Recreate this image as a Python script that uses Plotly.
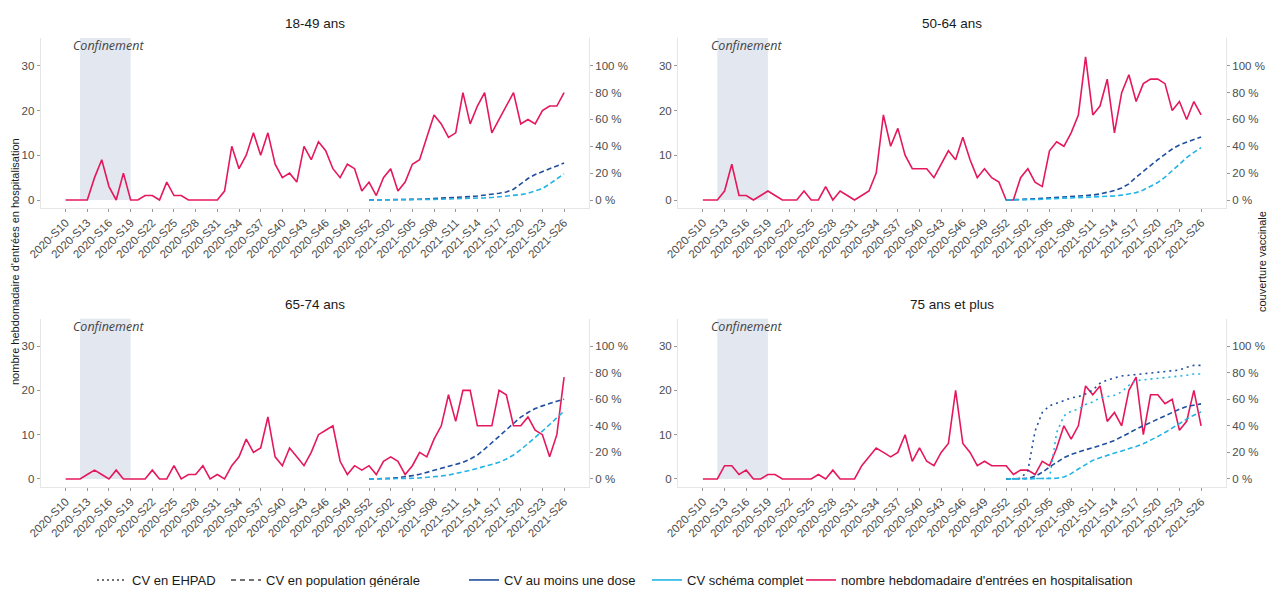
import plotly.graph_objects as go

# ---------------- data ----------------
WEEKS = [f"2020-S{w:02d}" for w in range(10, 54)] + [f"2021-S{w:02d}" for w in range(1, 27)]
TICK_WEEKS = WEEKS[::3]
VAC_START = "2020-S52"
CONF_START = "2020-S12"
CONF_END = "2020-S19"

PANEL_TITLES = ["18-49 ans", "50-64 ans", "65-74 ans", "75 ans et plus"]

HOSP_18_49 = [0, 0, 0, 0, 5, 9, 3, 0, 6, 0,
              0, 1, 1, 0, 4, 1, 1, 0, 0, 0,
              0, 0, 2, 12, 7, 10, 15, 10, 15, 8,
              5, 6, 4, 12, 9, 13, 11, 7, 5, 8,
              7, 2, 4, 1, 5, 7, 2, 4, 8, 9,
              14, 19, 17, 14, 15, 24, 17, 21, 24, 15,
              18, 21, 24, 17, 18, 17, 20, 21, 21, 24]
HOSP_50_64 = [0, 0, 0, 2, 8, 1, 1, 0, 1, 2,
              1, 0, 0, 0, 2, 0, 0, 3, 0, 2,
              1, 0, 1, 2, 6, 19, 12, 16, 10, 7,
              7, 7, 5, 8, 11, 9, 14, 9, 5, 7,
              5, 4, 0, 0, 5, 7, 4, 3, 11, 13,
              12, 15, 19, 32, 19, 21, 27, 15, 24, 28,
              22, 26, 27, 27, 26, 20, 22, 18, 22, 19]
HOSP_65_74 = [0, 0, 0, 1, 2, 1, 0, 2, 0, 0,
              0, 0, 2, 0, 0, 3, 0, 1, 1, 3,
              0, 1, 0, 3, 5, 9, 6, 7, 14, 5,
              3, 7, 5, 3, 6, 10, 11, 12, 4, 1,
              3, 2, 3, 1, 4, 5, 4, 1, 3, 6,
              5, 9, 12, 19, 13, 20, 20, 12, 12, 12,
              20, 19, 12, 12, 14, 11, 10, 5, 10, 23]
HOSP_75P = [0, 0, 0, 3, 3, 1, 2, 0, 0, 1,
            1, 0, 0, 0, 0, 0, 1, 0, 2, 0,
            0, 0, 3, 5, 7, 6, 5, 6, 10, 4,
            7, 4, 3, 6, 8, 20, 8, 6, 3, 4,
            3, 3, 3, 1, 2, 2, 1, 4, 3, 7,
            12, 9, 12, 21, 19, 21, 13, 15, 12, 20,
            23, 10, 19, 19, 17, 18, 11, 13, 20, 12]

# vaccination coverage (%), weeks from 2020-S52 to 2021-S26
DOSE1_18_49 = [0, 0, 0.1, 0.2, 0.3, 0.4, 0.5, 0.6, 0.8, 1.0, 1.2, 1.5, 1.8, 2.1,
               2.5, 3.0, 3.6, 4.2, 5.0, 6.0, 8.0, 12, 16, 19, 21, 23, 25, 27.5]
COMPL_18_49 = [0, 0, 0, 0.1, 0.1, 0.2, 0.2, 0.3, 0.4, 0.5, 0.6, 0.7, 0.9, 1.0,
               1.2, 1.4, 1.6, 1.9, 2.3, 2.7, 3.2, 4.0, 5.0, 6.5, 8.5, 12, 16, 19.5]
DOSE1_50_64 = [0, 0.1, 0.3, 0.6, 0.9, 1.2, 1.5, 1.8, 2.1, 2.4, 2.8, 3.2, 3.7, 4.5,
               5.5, 7, 9, 12, 17, 21.5, 26, 30, 34, 38, 41, 43, 45, 47]
COMPL_50_64 = [0, 0, 0.1, 0.3, 0.4, 0.6, 0.8, 1.0, 1.1, 1.3, 1.5, 1.7, 2.0, 2.3,
               2.6, 3.0, 3.6, 4.4, 5.5, 7.5, 10, 13, 17, 22, 27, 31.5, 35.5, 39]
DOSE1_65_74 = [0, 0, 0.2, 0.5, 1.0, 1.6, 2.5, 3.5, 4.8, 6.5, 8, 9.5, 11, 12.5,
               15, 18, 22.5, 27, 32, 37, 42, 46.5, 50, 53, 55, 57, 58.5, 60]
COMPL_65_74 = [0, 0, 0, 0.1, 0.2, 0.3, 0.5, 0.8, 1.1, 1.5, 2.2, 3, 4, 5.2,
               6.5, 8, 9.5, 11, 12.5, 15, 18, 22, 26.5, 31, 36, 41, 46, 51]
DOSE1_75P = [0, 0, 0.5, 0.5, 2, 5, 9, 12.5, 16, 18.5, 20.5, 22, 23.5, 25,
             27, 29, 31.5, 34.5, 37.5, 40, 43, 45.5, 48, 50.5, 52.5, 54.5, 55.5, 56.5]
COMPL_75P = [0, 0, 0, 0, 0, 0, 0, 0.5, 1.5, 4, 7.5, 11, 14, 16,
             18, 19.5, 21, 22.5, 24.5, 26.5, 29, 32, 35, 38.5, 42, 45, 48, 50.5]
EHPAD_DOSE1_75P = [0, 0, 0.5, 6, 36, 50, 55, 57, 59, 61, 62, 64, 67, 72,
                   74.5, 76, 77.5, 78, 78.5, 79.5, 80, 80.5, 81, 81, 82, 84, 85.5, 85.5]
EHPAD_COMPL_75P = [0, 0, 0, 0, 0, 0, 0.5, 35, 47.5, 51, 52.5, 56, 58, 61,
                   62, 63, 65.5, 70.5, 74, 74.5, 75, 75.5, 76, 76.5, 77.5, 78, 79, 79]

LEFT_TICKS = [0, 10, 20, 30]
RIGHT_TICKS = [0, 20, 40, 60, 80, 100]

# ---------------- style ----------------
RED = "#E5185B"
DARK = "#1F4E9E"
LIGHT = "#22B4E6"
SHADE = "#E3E7F0"
AXIS_GRAY = "#E6E6E6"
TICK_GRAY = "#4D4D4D"
FONT = "Liberation Sans, Arial, sans-serif"

PAGE_W, PAGE_H = 1277, 595
OFF = 8                      # default page margin around the plot div
W, H = PAGE_W - 2 * OFF, PAGE_H - 2 * OFF


def px(xp):
    return (xp - OFF) / W


def py(yp):
    return 1 - (yp - OFF) / H


VAC_WEEKS = WEEKS[WEEKS.index(VAC_START):]

# plot areas in page pixels (left, right, top, bottom)
AREAS = [(40.7, 589, 38, 207.7), (678, 1226, 38, 207.7),
         (40.7, 589, 318.6, 486.6), (678, 1226, 318.6, 486.6)]
Y_RANGE = [-1.72, 36.2]
R_RANGE = [v * 100 / 30 for v in Y_RANGE]
X_RANGE = [-3.45, len(WEEKS) - 1 + 3.45]

panels = [
    (HOSP_18_49, DOSE1_18_49, COMPL_18_49, None, None),
    (HOSP_50_64, DOSE1_50_64, COMPL_50_64, None, None),
    (HOSP_65_74, DOSE1_65_74, COMPL_65_74, None, None),
    (HOSP_75P, DOSE1_75P, COMPL_75P, EHPAD_DOSE1_75P, EHPAD_COMPL_75P),
]

tick_font = dict(family=FONT, size=11.5, color=TICK_GRAY)

fig = go.Figure()
layout = {}
shapes = []
annotations = []

for k, (hosp, d1, dc, e1, ec) in enumerate(panels, start=1):
    xn = "x" if k == 1 else f"x{k}"
    yl = "y" if k == 1 else f"y{2 * k - 1}"
    yr = f"y{2 * k}"
    l, r, t, b = AREAS[k - 1]
    xd = [px(l), px(r)]
    yd = [py(b), py(t)]
    xkey = "xaxis" if k == 1 else f"xaxis{k}"
    ylkey = "yaxis" if k == 1 else f"yaxis{2 * k - 1}"
    yrkey = f"yaxis{2 * k}"
    layout[xkey] = dict(domain=xd, anchor=yl, type="category", categoryorder="array",
                        categoryarray=WEEKS, range=X_RANGE, tickmode="array",
                        tickvals=TICK_WEEKS, ticktext=TICK_WEEKS, tickangle=-45,
                        ticks="outside", ticklen=3, tickcolor="#999999",
                        showline=True, linecolor=AXIS_GRAY, linewidth=1,
                        showgrid=False, zeroline=False, tickfont=tick_font)
    layout[ylkey] = dict(domain=yd, anchor=xn, range=Y_RANGE, tickmode="array",
                         tickvals=LEFT_TICKS, ticktext=[str(v) for v in LEFT_TICKS],
                         ticks="outside", ticklen=3,
                         tickcolor="#999999", showline=True, linecolor=AXIS_GRAY,
                         linewidth=1, showgrid=False, zeroline=False, tickfont=tick_font)
    layout[yrkey] = dict(overlaying=yl, side="right", anchor=xn, range=R_RANGE,
                         tickmode="array", tickvals=RIGHT_TICKS,
                         ticktext=[f"{v} %" for v in RIGHT_TICKS],
                         ticks="outside", ticklen=3, tickcolor="#999999",
                         showline=True, linecolor=AXIS_GRAY, linewidth=1,
                         showgrid=False, zeroline=False, tickfont=tick_font)

    c0 = WEEKS.index(CONF_START)
    c1 = WEEKS.index(CONF_END)
    shapes.append(dict(type="rect", xref=xn, yref=yl, x0=c0, x1=c1, y0=0,
                       y1=Y_RANGE[1], fillcolor=SHADE, line=dict(width=0),
                       layer="below"))
    annotations.append(dict(xref=xn, yref=yl, x=(c0 + c1) / 2 + 0.5, y=34.5,
                            text="Confinement", showarrow=False,
                            font=dict(family="Open Sans, DejaVu Sans, sans-serif",
                                      size=12.5, color="#444444", style="italic"),
                            xanchor="center", yanchor="middle"))
    annotations.append(dict(xref="paper", yref="paper", x=(xd[0] + xd[1]) / 2,
                            y=py(t - 14), text=PANEL_TITLES[k - 1],
                            showarrow=False, xanchor="center", yanchor="middle",
                            font=dict(family=FONT, size=13.5, color="#1A1A1A")))

    if e1 is not None:
        fig.add_trace(go.Scatter(x=VAC_WEEKS, y=e1, mode="lines", xaxis=xn, yaxis=yr,
                                 line=dict(color=DARK, width=1.6, dash="2px,4px"),
                                 showlegend=False, hoverinfo="skip"))
        fig.add_trace(go.Scatter(x=VAC_WEEKS, y=ec, mode="lines", xaxis=xn, yaxis=yr,
                                 line=dict(color=LIGHT, width=1.6, dash="2px,4px"),
                                 showlegend=False, hoverinfo="skip"))
    fig.add_trace(go.Scatter(x=VAC_WEEKS, y=d1, mode="lines", xaxis=xn, yaxis=yr,
                             line=dict(color=DARK, width=1.6, dash="5px,3px"),
                             showlegend=False, hoverinfo="skip"))
    fig.add_trace(go.Scatter(x=VAC_WEEKS, y=dc, mode="lines", xaxis=xn, yaxis=yr,
                             line=dict(color=LIGHT, width=1.6, dash="5px,3px"),
                             showlegend=False, hoverinfo="skip"))
    fig.add_trace(go.Scatter(x=WEEKS, y=hosp, mode="lines", xaxis=xn, yaxis=yl,
                             line=dict(color=RED, width=1.6),
                             showlegend=False, hoverinfo="skip"))

# legend entries (one small legend box per entry, laid out like the original)
legend_items = [
    ("CV en EHPAD", "#444444", "2px,3px", 92),
    ("CV en population générale", "#444444", "5px,4px", 226),
    ("CV au moins une dose", DARK, "solid", 464),
    ("CV schéma complet", LIGHT, "solid", 647),
    ("nombre hebdomadaire d'entrées en hospitalisation", RED, "solid", 801),
]
legend_font = dict(family=FONT, size=13, color="#1A1A1A")
legend_layouts = {}
for i, (name, color, dash, xpix) in enumerate(legend_items, start=1):
    lg = "legend" if i == 1 else f"legend{i}"
    fig.add_trace(go.Scatter(x=[None], y=[None], mode="lines", name=name,
                             line=dict(color=color, width=1.6, dash=dash),
                             legend=lg, showlegend=True, xaxis="x", yaxis="y"))
    legend_layouts[lg] = dict(orientation="h", x=px(xpix), y=py(580),
                              xanchor="left", yanchor="middle", font=legend_font,
                              bgcolor="rgba(0,0,0,0)")

annotations.append(dict(xref="paper", yref="paper", x=px(15), y=py(262),
                        text="nombre hebdomadaire d'entrées en hospitalisation",
                        textangle=-90, showarrow=False, xanchor="center",
                        yanchor="middle", font=dict(family=FONT, size=11, color="#1A1A1A")))
annotations.append(dict(xref="paper", yref="paper", x=px(1262), y=py(262),
                        text="couverture vaccinale", textangle=-90, showarrow=False,
                        xanchor="center", yanchor="middle",
                        font=dict(family=FONT, size=11, color="#1A1A1A")))

fig.update_layout(
    **layout,
    **legend_layouts,
    width=W, height=H,
    margin=dict(l=0, r=0, t=0, b=0, autoexpand=False),
    paper_bgcolor="white", plot_bgcolor="white",
    shapes=shapes, annotations=annotations,
    hovermode=False,
)

fig.write_html("out.html")
